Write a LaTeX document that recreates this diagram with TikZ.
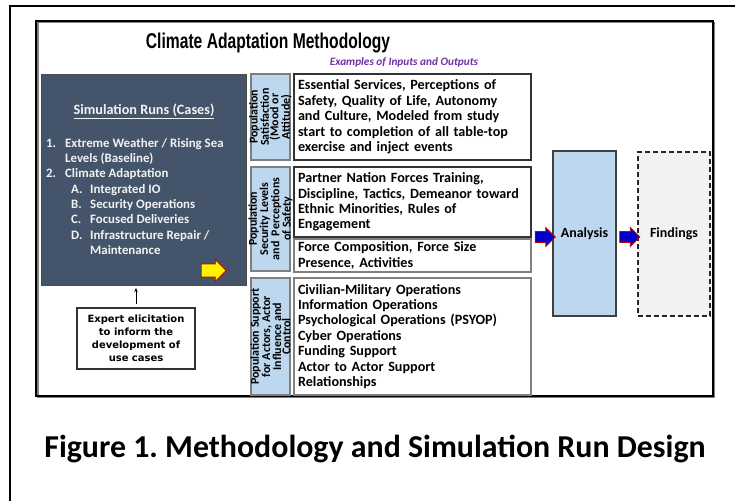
\documentclass[tikz,border=0pt]{standalone}
\usepackage{fontspec}
\setmainfont{Carlito}
\newfontfamily\headfont{Liberation Sans}
\newfontfamily\notefont{DejaVu Sans}
\usetikzlibrary{shapes.arrows,arrows.meta}
\frenchspacing

\definecolor{slate}{HTML}{44546A}
\definecolor{paleblue}{HTML}{BDD7EE}
\definecolor{paper}{HTML}{F2F2F2}
\definecolor{subpurple}{HTML}{7030A0}
\definecolor{arrowred}{HTML}{C00000}
\definecolor{arrowblue}{HTML}{0000CC}
\definecolor{edgegray}{HTML}{7F7F7F}

\tikzset{
  box/.style={anchor=north west, inner sep=0pt, outer sep=0pt},
  labelbox/.style={box, draw=edgegray, line width=1.2bp, fill=paleblue},
  itembox/.style={box, draw=black!80, line width=1.2bp, fill=white,
    align=left, text width=#1, inner xsep=4bp,
    font=\bfseries\fontsize{14.2}{15.5}\selectfont},
  sidetext/.style={rotate=90, align=center, inner sep=0pt,
    font=\bfseries\fontsize{12}{9.4}\selectfont},
  flowarrow/.style={single arrow, draw=arrowred, line width=0.8bp,
    fill=arrowblue, inner xsep=0pt, inner ysep=5bp,
    single arrow head extend=4bp, minimum height=20bp},
}

\begin{document}
\begin{tikzpicture}[x=1bp, y=-1bp]
\useasboundingbox (0,0) rectangle (735,501);

% page frames
\draw[line width=2bp] (10,6) rectangle (760,540);
\draw[edgegray, line width=1.2bp] (38,22.5) rectangle (714.5,397.5);
\draw[line width=1.6bp] (36,21) rectangle (713,396);

% headings
\node (title) at (268,43)
  {\headfont\bfseries\fontsize{21.5}{24}\selectfont\scalebox{0.73}[1]{Climate Adaptation Methodology}};
\node[text=subpurple, font=\bfseries\itshape\fontsize{11.3}{13}\selectfont] (subtitle) at (404,62)
  {Examples of Inputs and Outputs};

% simulation runs panel
\node[box, draw=black!70, line width=1bp, fill=slate,
  minimum width=205bp, minimum height=210bp] (sim) at (41,75) {};
\node[text=paper, font=\bfseries\fontsize{14.3}{16}\selectfont] (simhead) at (144,111)
  {\underline{Simulation Runs (Cases)}};
\node[anchor=north west, inner sep=0pt, align=left, text=paper,
  font=\bfseries\fontsize{12.9}{15.4}\selectfont] (simlist) at (46,138)
  {\makebox[19bp][l]{1.}Extreme Weather / Rising Sea\\
   \hspace*{19bp}Levels (Baseline)\\
   \makebox[19bp][l]{2.}Climate Adaptation\\
   \hspace*{25bp}\makebox[19bp][l]{A.}Integrated IO\\
   \hspace*{25bp}\makebox[19bp][l]{B.}Security Operations\\
   \hspace*{25bp}\makebox[19bp][l]{C.}Focused Deliveries\\
   \hspace*{25bp}\makebox[19bp][l]{D.}Infrastructure Repair /\\
   \hspace*{44bp}Maintenance};
\node[single arrow, draw=arrowred, line width=0.8bp, fill=yellow,
  inner xsep=0pt, inner ysep=6bp, single arrow head extend=4.5bp,
  minimum height=25bp] (simarrow) at (210.5,270.5) {};

% expert elicitation
\node[draw=black!80, line width=1.2bp, minimum width=118bp, minimum height=61bp,
  align=center, inner sep=0pt,
  font=\notefont\bfseries\fontsize{10}{12.9}\selectfont] (expert) at (136,338.5)
  {Expert elicitation\\to inform the\\development of\\use cases};
\draw[line width=0.9bp, -{Stealth[length=4bp,width=3.5bp]}, shorten <=3bp, shorten >=3bp]
  (expert.north) -- (expert.north |- sim.south);

% category labels
\node[labelbox, minimum width=39bp, minimum height=86bp] (cat1) at (251,74) {};
\node[sidetext] at (cat1.center) {Population\\Satisfaction\\(Mood or\\Attitude)};
\node[labelbox, minimum width=39bp, minimum height=104bp] (cat2) at (251,167) {};
\node[sidetext] at (cat2.center) {Population\\Security Levels\\and\ \ Perceptions\\of Safety};
\node[labelbox, minimum width=39bp, minimum height=117bp] (cat3) at (251,278) {};
\node[sidetext] at (cat3.center) {Population Support\\for Actors, Actor\\Influence and\\Control};

% example inputs and outputs
\node[itembox=229bp, minimum height=86bp] (in1) at (294,74)
  {Essential Services, Perceptions of\\Safety, Quality of Life, Autonomy\\and Culture, Modeled from study\\start to completion of all table-top\\exercise and inject events};
\node[itembox=229bp, minimum height=70bp] (in2) at (294,167)
  {Partner Nation Forces Training,\\Discipline, Tactics, Demeanor toward\\Ethnic Minorities, Rules of\\Engagement};
\node[itembox=229bp, minimum height=33bp, draw=edgegray] (in3) at (294,239)
  {Force Composition, Force Size\\Presence, Activities};
\node[itembox=229bp, minimum height=117bp, draw=edgegray] (in4) at (294,278)
  {Civilian-Military Operations\\Information Operations\\Psychological Operations (PSYOP)\\Cyber Operations\\Funding Support\\Actor to Actor Support\\Relationships};

% analysis and findings
\node[box, draw=black!75, line width=1.2bp, fill=paleblue, minimum width=63bp,
  minimum height=165bp] (analysis) at (553,151) {};
\node[font=\bfseries\fontsize{14}{16}\selectfont] at (analysis.center) {Analysis};
\node[box, draw=black!85, line width=1.3bp, dash pattern=on 5bp off 3bp, fill=paper,
  minimum width=72bp, minimum height=164bp] (findings) at (638,152) {};
\node[font=\bfseries\fontsize{14}{16}\selectfont] at (findings.center) {Findings};

\node[flowarrow] (toanalysis) at (542.5,237) {};
\node[flowarrow] (tofindings) at (627,237) {};

% caption
\node[anchor=base, font=\bfseries\fontsize{32}{36}\selectfont] (caption) at (375,457)
  {Figure 1. Methodology and Simulation Run Design};
\end{tikzpicture}
\end{document}
